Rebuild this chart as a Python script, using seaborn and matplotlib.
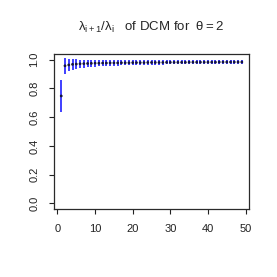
import numpy as np
import pandas as pd
import matplotlib
matplotlib.use('Agg')
import matplotlib.pyplot as plt
import seaborn as sns

sns.set_style('white')
plt.rcParams['font.family'] = ['Liberation Sans', 'DejaVu Sans']
plt.rcParams['mathtext.fontset'] = 'custom'
plt.rcParams['mathtext.rm'] = 'Liberation Sans'
plt.rcParams['mathtext.it'] = 'Liberation Sans'

index = list(range(1, 50))
ratio = [0.748, 0.958, 0.964, 0.968, 0.970, 0.972, 0.973, 0.974, 0.975, 0.976,
         0.976, 0.977, 0.977, 0.978, 0.978, 0.978, 0.979, 0.979, 0.979, 0.980,
         0.980, 0.980, 0.980, 0.981, 0.981, 0.981, 0.981, 0.981, 0.982, 0.982,
         0.982, 0.982, 0.982, 0.982, 0.983, 0.983, 0.983, 0.983, 0.983, 0.983,
         0.983, 0.983, 0.984, 0.984, 0.984, 0.984, 0.984, 0.984, 0.984]
err = [0.112, 0.055, 0.043, 0.036, 0.032, 0.029, 0.027, 0.025, 0.024, 0.023,
       0.022, 0.021, 0.020, 0.019, 0.019, 0.018, 0.018, 0.017, 0.017, 0.017,
       0.016, 0.016, 0.016, 0.016, 0.015, 0.015, 0.015, 0.015, 0.015, 0.015,
       0.014, 0.014, 0.014, 0.014, 0.014, 0.014, 0.014, 0.014, 0.014, 0.014,
       0.013, 0.013, 0.013, 0.013, 0.013, 0.013, 0.013, 0.013, 0.013]

df = pd.DataFrame({'i': index, 'ratio': ratio, 'err': err})

fig = plt.figure(figsize=(2.77, 2.77), dpi=100)
ax = fig.add_axes([0.195, 0.245, 0.704, 0.560])

ax.vlines(df['i'], df['ratio'] - df['err'], df['ratio'] + df['err'],
          color='#1f1fff', lw=1.2, zorder=2)
sns.scatterplot(data=df, x='i', y='ratio', ax=ax, color='#14143c', s=4,
                edgecolor='none', zorder=3, legend=False)

ax.set_xlim(-0.92, 50.92)
ax.set_ylim(-0.04, 1.04)
ax.set_xticks([0, 10, 20, 30, 40, 50])
ax.set_yticks([0.0, 0.2, 0.4, 0.6, 0.8, 1.0])
ax.set_yticklabels(['0.0', '0.2', '0.4', '0.6', '0.8', '1.0'], rotation=90, va='center')
ax.set_xlabel('')
ax.set_ylabel('')
ax.tick_params(axis='both', direction='out', length=3.6, width=0.8, labelsize=8,
               colors='#222222', left=True, bottom=True, pad=7)
for s in ax.spines.values():
    s.set_color('#2a2a2a')
    s.set_linewidth(0.9)

fig.text(0.547, 0.9, r'$\lambda_{i+1}/\lambda_i$   of DCM for  $\theta = 2$',
         ha='center', va='center', fontsize=9.5)

fig.savefig('out.png', dpi=100)
